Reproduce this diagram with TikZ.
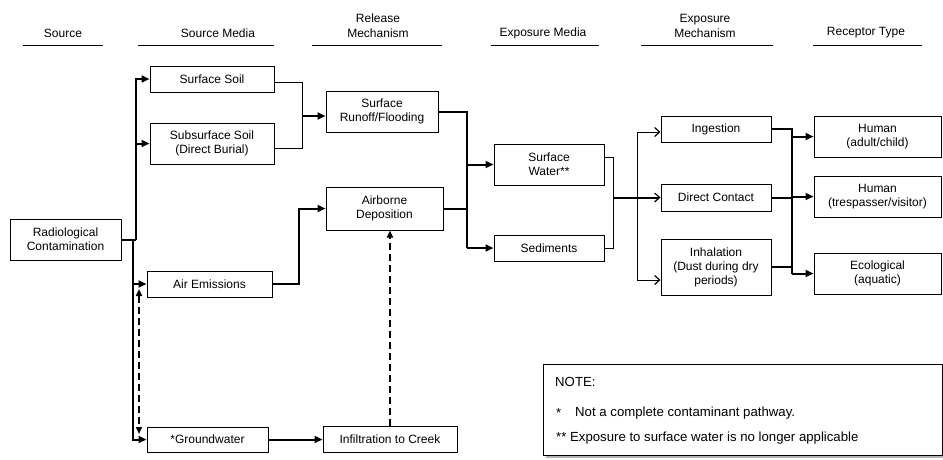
\documentclass[tikz,border=0pt]{standalone}
\usepackage{fontspec}
\setmainfont{Liberation Sans}
\usetikzlibrary{arrows.meta,calc}
\begin{document}
\begin{tikzpicture}[x=1pt,y=-1pt,
  box/.style={draw, line width=1pt, align=center, inner sep=0pt, font=\fontsize{12}{14}\selectfont},
  hdr/.style={align=center, inner sep=0pt, font=\fontsize{12}{15}\selectfont},
  notetxt/.style={anchor=west, inner sep=0pt, font=\fontsize{13.2}{15}\selectfont},
  hline/.style={line width=1pt},
  thinln/.style={line width=1pt},
  thk/.style={line width=2pt},
  farr/.style={-{Triangle[length=8pt,width=7pt]}},
  oarr/.style={-{Straight Barb[length=5pt,width=9pt,line width=1.2pt]}},
  dsh/.style={line width=2pt, dash pattern=on 7pt off 4pt},
]
\useasboundingbox (0,0) rectangle (943,459);

% headers
\node[hdr] (h1) at (63,33) {Source};
\node[hdr] (h2) at (218,33) {Source Media};
\node[hdr] (h3) at (378,25.5) {Release\\Mechanism};
\node[hdr] (h4) at (543,33) {Exposure Media};
\node[hdr] (h5) at (705,25.5) {Exposure\\Mechanism};
\node[hdr] (h6) at (866,33) {Receptor Type};
\draw[hline] (23,45) -- (103,45);
\draw[hline] (138,45) -- (274,45);
\draw[hline] (312,45) -- (442,45);
\draw[hline] (491,45) -- (599,45);
\draw[hline] (641,45) -- (773,45);
\draw[hline] (813,45) -- (922,45);

% boxes
\node[box, minimum width=111pt, minimum height=41pt] (src) at (65.5,239.5) {Radiological\\Contamination};
\node[box, minimum width=124pt, minimum height=26pt] (ssoil) at (212,79) {Surface Soil};
\node[box, minimum width=124pt, minimum height=41pt] (subsoil) at (212,143.5) {Subsurface Soil\\(Direct Burial)};
\node[box, minimum width=125pt, minimum height=26pt] (air) at (209.5,284) {Air Emissions};
\node[box, minimum width=121pt, minimum height=25pt] (gw) at (207.5,439.5) {*Groundwater};
\node[box, minimum width=112pt, minimum height=41pt] (runoff) at (382,111.5) {Surface\\Runoff/Flooding};
\node[box, minimum width=117pt, minimum height=43pt] (airdep) at (384.5,208.5) {Airborne\\Deposition};
\node[box, minimum width=134pt, minimum height=26pt] (infil) at (390,439) {Infiltration to Creek};
\node[box, minimum width=110pt, minimum height=41pt] (sw) at (549,164.5) {Surface\\Water**};
\node[box, minimum width=110pt, minimum height=26pt] (sed) at (549,248) {Sediments};
\node[box, minimum width=110pt, minimum height=26pt] (ing) at (716,129) {Ingestion};
\node[box, minimum width=110pt, minimum height=27pt] (dc) at (716,197.5) {Direct Contact};
\node[box, minimum width=110pt, minimum height=56pt] (inh) at (716,267) {Inhalation\\(Dust during dry\\periods)};
\node[box, minimum width=127pt, minimum height=41pt] (hac) at (877.5,136.5) {Human\\(adult/child)};
\node[box, minimum width=127pt, minimum height=41pt] (htv) at (877.5,196.5) {Human\\(trespasser/visitor)};
\node[box, minimum width=127pt, minimum height=41pt] (eco) at (877.5,273.5) {Ecological\\(aquatic)};

% source bus
\coordinate (bA) at (136,239.5);
\coordinate (bB) at (133,239.5);
\draw[thk] (src.east) -- (bA);
\draw[thk,farr] (bA) |- (ssoil.west);
\draw[thk,farr] (bA) |- (subsoil.west);
\draw[thk,farr] (bB) |- (air.west);
\draw[thk,farr] (bB) |- (gw.west);
\coordinate (dA) at (139,289);
\coordinate (dB) at (139,434);
\draw[dsh,{Triangle[length=7pt,width=6pt]}-{Triangle[length=7pt,width=6pt]}] (dA) -- (dB);

% soils to runoff
\coordinate (jS) at (302,116);
\draw[thinln] ($(ssoil.east)+(0,3)$) -| ($(subsoil.east)+(28,4.5)$) -- ($(subsoil.east)+(0,4.5)$);
\draw[thk,farr] (jS) -- (jS -| runoff.west);

% air emissions to airborne deposition
\draw[thk,farr] (air.east) -| ($(airdep.west)+(-27,0)$) -- (airdep.west);

% groundwater to infiltration
\draw[thk,farr] (gw.east) -- (gw.east -| infil.west);
\draw[dsh,-{Triangle[length=7pt,width=6pt]}] (infil.north) -- (infil.north |- airdep.south);

% release bus
\coordinate (jR) at (466.5,0);
\draw[thk] (runoff.east) -- (runoff.east -| jR) -- (jR |- sed.west);
\draw[thk] (airdep.east) -- (airdep.east -| jR);
\draw[thk,farr] (jR |- sw.west) -- (sw.west);
\draw[thk,farr] (jR |- sed.west) -- (sed.west);

% exposure media merge
\coordinate (jM) at (613,0);
\coordinate (jE) at (637,0);
\draw[thinln] ($(sw.east)+(0,-7.5)$) -| (jM |- sed.east) -- (sed.east);
\draw[thk,oarr] (jM |- dc.west) -- (dc.west);
\draw[thinln,oarr] (jE |- dc.west) |- ($(ing.west)+(0,3)$);
\draw[thinln,oarr] (jE |- dc.west) |- ($(inh.west)+(0,13)$);

% receptor bus
\coordinate (jX) at (792,0);
\draw[thk] (ing.east) -- (ing.east -| jX) -- (jX |- eco.west);
\draw[thk] (dc.east) -- (dc.east -| jX);
\draw[thk] (inh.east) -- (inh.east -| jX);
\draw[thk,farr] (jX |- hac.west) -- (hac.west);
\draw[thk,farr] (jX |- htv.west) -- (htv.west);
\draw[thk,farr] (jX |- eco.west) -- (eco.west);

% note
\fill[gray!60] (546,367) rectangle (946,458);
\node[draw, fill=white, line width=1pt, minimum width=399pt, minimum height=91pt, inner sep=0pt, anchor=north west] (note) at (543,364) {};
\node[notetxt] (n1) at (555,382) {NOTE:};
\node[notetxt] (n2) at (556,413) {*};
\node[notetxt] (n3) at (575,413) {Not a complete contaminant pathway.};
\node[notetxt] (n4) at (556,438) {** Exposure to surface water is no longer applicable};
\end{tikzpicture}
\end{document}
